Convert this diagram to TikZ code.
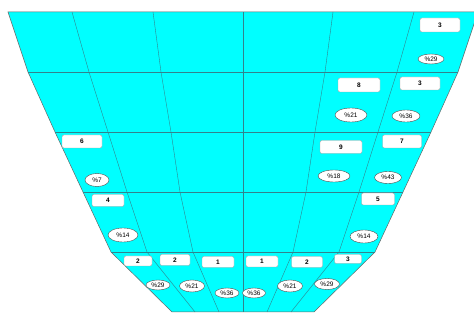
\documentclass[tikz,border=0pt]{standalone}
\usepackage{fontspec}
\setmainfont{Liberation Sans}
\usetikzlibrary{shapes.geometric}
\definecolor{aqua}{RGB}{0,255,255}
\definecolor{gridline}{RGB}{50,130,140}
\begin{document}
\begin{tikzpicture}[x=1pt,y=-1pt,
  grid/.style={draw=gridline, line width=0.4pt},
  outer/.style={draw=gray!80!black, line width=0.5pt, fill=aqua},
  box/.style={draw=gray!70, fill=white, rounded corners=2pt, inner sep=0pt,
    minimum width=32pt, minimum height=12pt, font=\fontsize{6.5}{6.5}\selectfont\bfseries},
  pct/.style={ellipse, draw=black!70, fill=white, inner sep=0pt,
    minimum width=26pt, minimum height=12pt, font=\fontsize{6.5}{6.5}\selectfont}]
\useasboundingbox (0,0) rectangle (474,320);
\fill[white] (0,0) rectangle (474,320);
% outer funnel
\path[outer] (8,12) -- (28,72) -- (55,132) -- (83,192) -- (111,252) -- (172,312)
  -- (314,312) -- (375,252) -- (403,192) -- (431,132) -- (458,72) -- (478,12) -- cycle;
% horizontal row lines
\draw[grid] (28,72) -- (458,72);
\draw[grid] (55,132) -- (431,132);
\draw[grid] (83,192) -- (403,192);
\draw[grid] (111,252) -- (375,252);
% column dividers
\draw[grid] (72,12) -- (89,72) -- (108,132) -- (127,192) -- (147,252) -- (195,312);
\draw[grid] (153,12) -- (161,72) -- (171,132) -- (180,192) -- (193,252) -- (219,312);
\draw[grid] (243,12) -- (243,312);
\draw[grid] (333,12) -- (325,72) -- (315,132) -- (306,192) -- (293,252) -- (267,312);
\draw[grid] (414,12) -- (397,72) -- (378,132) -- (359,192) -- (339,252) -- (291,312);
% number boxes
\node[box, minimum width=40pt, minimum height=13pt] (b6) at (82,141.5) {6};
\node[box, minimum width=32pt] (b4) at (108,200.5) {4};
\node[box, minimum width=28pt, minimum height=10pt] (b2a) at (138,261) {2};
\node[box, minimum width=30pt, minimum height=11pt] (b2b) at (175,260) {2};
\node[box, minimum width=32pt, minimum height=11pt] (b1a) at (218,262) {1};
\node[box, minimum width=32pt, minimum height=11pt] (b1b) at (262,261.5) {1};
\node[box, minimum width=31pt, minimum height=11pt] (b2c) at (307,262) {2};
\node[box, minimum width=27pt, minimum height=9pt] (b3a) at (348,259) {3};
\node[box, minimum width=33pt] (b5) at (378,199) {5};
\node[box, minimum width=42pt, minimum height=13pt] (b9) at (341,147) {9};
\node[box, minimum width=39pt, minimum height=13pt] (b7) at (402,141.5) {7};
\node[box, minimum width=42pt, minimum height=14pt] (b8) at (359,85) {8};
\node[box, minimum width=40pt, minimum height=13pt] (b3b) at (420,83.5) {3};
\node[box, minimum width=40pt, minimum height=14pt] (b3c) at (440,25) {3};
% percentage ellipses
\node[pct, minimum width=24pt, minimum height=13pt] (p7) at (97,180) {\%7};
\node[pct, minimum width=30pt, minimum height=14pt] (p14a) at (123,235) {\%14};
\node[pct, minimum width=24pt, minimum height=10pt] (p29a) at (158,285) {\%29};
\node[pct, minimum width=25pt, minimum height=12pt] (p21a) at (192,286) {\%21};
\node[pct, minimum width=24pt, minimum height=10pt] (p36a) at (227,293) {\%36};
\node[pct, minimum width=23pt, minimum height=10pt] (p36b) at (254,293) {\%36};
\node[pct, minimum width=25pt, minimum height=12pt] (p21b) at (290,286) {\%21};
\node[pct, minimum width=25pt, minimum height=11pt] (p29b) at (327,284) {\%29};
\node[pct, minimum width=28pt, minimum height=13pt] (p14b) at (364,236.5) {\%14};
\node[pct, minimum width=27pt, minimum height=12pt] (p43) at (388,177.5) {\%43};
\node[pct, minimum width=32pt, minimum height=12pt] (p18) at (334,176) {\%18};
\node[pct, minimum width=32pt, minimum height=14pt] (p21c) at (351,115) {\%21};
\node[pct, minimum width=28pt, minimum height=12pt] (p36c) at (406,116) {\%36};
\node[pct, minimum width=26pt, minimum height=10pt] (p29c) at (431,59) {\%29};
\end{tikzpicture}
\end{document}
